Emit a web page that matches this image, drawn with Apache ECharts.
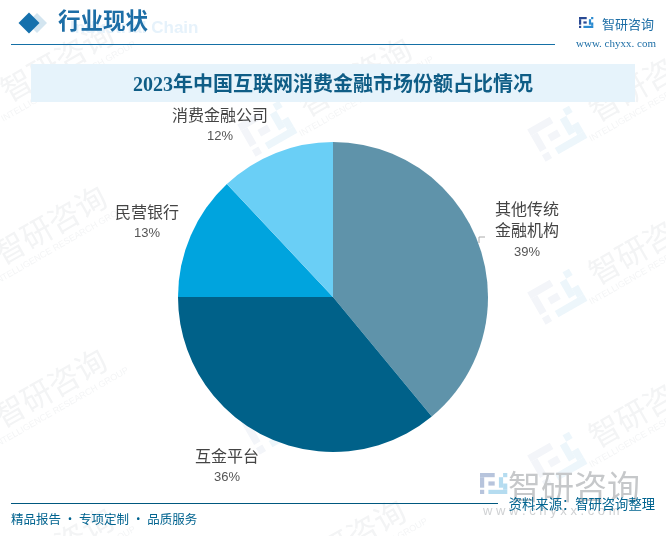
<!DOCTYPE html>
<html>
<head>
<meta charset="utf-8">
<style>
html, body { margin: 0; padding: 0; background: #fff; }
#chart { width: 666px; height: 536px; }
</style>
<script src="https://cdn.jsdelivr.net/npm/echarts@6/dist/echarts.min.js"></script>
</head>
<body>
<div id="chart"></div>
<script>
const categories = ['其他传统\n金融机构', '互金平台', '民营银行', '消费金融公司'];
const shares = [39, 36, 13, 12];
const sliceColors = ['#5f93aa', '#006189', '#00a4de', '#6acff6'];
const labelSpots = [[527, 231], [227, 467], [147, 223], [220, 126]];

const cjk = '"Noto Sans CJK SC", sans-serif';
const titleFont = '"Liberation Serif", "Noto Sans CJK SC", serif';

// background watermarks, one logo + name per spot
const markSpots = [[-30, 115], [268, 130], [558, 135], [-37, 278], [558, 298], [-37, 441], [272, 428], [558, 461], [-30, 600], [262, 592]];

function logoParts(s, dark, light) {
    return [
        { type: 'rect', shape: { x: 0, y: 0, width: 7 * s, height: 2 * s }, style: { fill: dark } },
        { type: 'rect', shape: { x: 0, y: 2 * s, width: 2 * s, height: 5 * s }, style: { fill: dark } },
        { type: 'rect', shape: { x: 4 * s, y: 4 * s, width: 3 * s, height: 2 * s }, style: { fill: dark } },
        { type: 'rect', shape: { x: 0, y: 8 * s, width: 2 * s, height: 2 * s }, style: { fill: dark } },
        { type: 'rect', shape: { x: 9 * s, y: 2 * s, width: 2 * s, height: 5 * s }, style: { fill: light } },
        { type: 'rect', shape: { x: 4 * s, y: 8 * s, width: 9 * s, height: 2 * s }, style: { fill: light } },
        { type: 'rect', shape: { x: 11 * s, y: 5 * s, width: 2 * s, height: 3 * s }, style: { fill: light } },
        { type: 'rect', shape: { x: 11 * s, y: 0, width: 2 * s, height: 2 * s }, style: { fill: light } }
    ];
}
function watermark(p) {
    return {
        type: 'group', x: p[0], y: p[1], rotation: 0.52, silent: true, z: 0,
        children: [
            { type: 'group', x: -24, y: -20, children: logoParts(3.7, '#f3f5f9', '#edf6fb') },
            {
                type: 'text', x: 102, y: -3,
                style: { text: '智研咨询', font: '31px ' + cjk, fill: '#f3f4f5', align: 'center', verticalAlign: 'middle' }
            },
            {
                type: 'text', x: 102, y: 20,
                style: { text: 'INTELLIGENCE RESEARCH GROUP', font: '9px "Liberation Sans", sans-serif', fill: '#f4f5f6', align: 'center', verticalAlign: 'middle' }
            }
        ]
    };
}
function diamond(cx, cy, r, fill) {
    return {
        type: 'polygon', silent: true,
        shape: { points: [[cx - r, cy], [cx, cy - r], [cx + r, cy], [cx, cy + r]] },
        style: { fill: fill }
    };
}
function line(x1, x2, y, color) {
    return { type: 'line', silent: true, shape: { x1: x1, y1: y, x2: x2, y2: y }, style: { stroke: color, lineWidth: 1 } };
}
function label(x, y, text, font, fill, align) {
    return { type: 'text', x: x, y: y, silent: true, z: 3, style: { text: text, font: font, fill: fill, align: align || 'left', verticalAlign: 'middle' } };
}
function smallLogo(x, y, s, dark, light) {
    return { type: 'group', x: x, y: y, silent: true, z: 3, children: logoParts(s, dark, light) };
}

const decorations = [
    ...markSpots.map(watermark),
    label(70, 28, 'Industrial Chain', 'bold 17px "Liberation Sans", sans-serif', '#e6f2fb'),
    diamond(37, 23, 10, '#d3e5f0'),
    diamond(29, 23, 10.5, '#1570ac'),
    label(58, 23, '行业现状', 'bold 22.5px ' + titleFont, '#1d6ea6'),
    line(11, 555, 44.5, '#1570a6'),
    smallLogo(579, 17, 1.1, '#2a4a94', '#2a8ad0'),
    label(602, 24, '智研咨询', '13px ' + cjk, '#1d6ea6'),
    label(576, 44, 'www. chyxx. com', '11px "Liberation Serif", serif', '#1d6ea6'),
    { type: 'rect', silent: true, z: 1, shape: { x: 31, y: 64, width: 604, height: 38 }, style: { fill: '#e6f3fb' } },
    label(333, 86, '2023年中国互联网消费金融市场份额占比情况', 'bold 20px ' + titleFont, '#0f5d86', 'center'),
    smallLogo(480, 473, 2.1, '#b7c4dc', '#b5dcf0'),
    label(574, 486, '智研咨询', '33px ' + cjk, '#c6c8ca', 'center'),
    label(483, 511, 'w w w . c h y x x . c o m', '13px "Liberation Sans", sans-serif', '#cfd1d3'),
    line(11, 498, 503.5, '#00587f'),
    label(655, 504, '资料来源：智研咨询整理', '13.3px ' + cjk, '#00638f', 'right'),
    label(11, 519, '精品报告 · 专项定制 · 品质服务', '12.5px ' + cjk, '#00638f')
];

const chart = echarts.init(document.getElementById('chart'), null, { renderer: 'canvas' });
chart.setOption({
    animation: false,
    backgroundColor: '#fff',
    graphic: { elements: decorations },
    series: [{
        type: 'pie',
        center: [333, 297],
        radius: [0, 155],
        startAngle: 90,
        clockwise: true,
        silent: true,
        z: 5,
        itemStyle: { borderWidth: 0 },
        data: categories.map((name, i) => ({
            name: name,
            value: shares[i],
            itemStyle: { color: sliceColors[i] },
            labelLine: { show: i === 0, lineStyle: { color: '#aaa', width: 1 } }
        })),
        label: {
            formatter: '{b|{b}}\n{c|{c}%}',
            rich: {
                b: { fontSize: 16, fontFamily: cjk, color: '#444', lineHeight: 21, align: 'center' },
                c: { fontSize: 13, fontFamily: '"Liberation Sans", sans-serif', color: '#555', lineHeight: 23, align: 'center' }
            }
        },
        labelLayout: function (params) {
            const spot = labelSpots[params.dataIndex];
            const layout = { x: spot[0], y: spot[1], align: 'center', verticalAlign: 'middle' };
            if (params.dataIndex === 0) {
                layout.labelLinePoints = [[479, 243], [479, 237], [485, 237]];
            }
            return layout;
        }
    }]
});
</script>
</body>
</html>
